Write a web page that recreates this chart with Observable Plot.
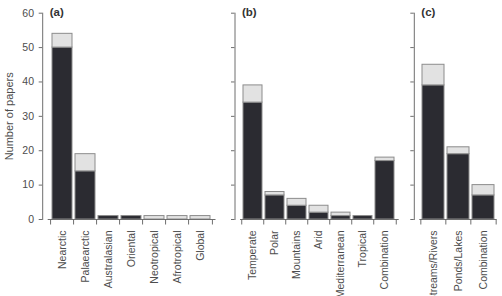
<!DOCTYPE html>
<html>
<head>
<meta charset="utf-8">
<script src="https://cdn.jsdelivr.net/npm/d3@7"></script>
<script src="https://cdn.jsdelivr.net/npm/@observablehq/plot@0.6"></script>
<style>
  html, body { margin: 0; padding: 0; background: white; }
  #chart { position: relative; width: 502px; height: 296px; overflow: hidden; background: white; }
  #chart > svg { position: absolute; top: 0; }
</style>
</head>
<body>
<div id="chart"></div>
<script>
// Panel (a): biogeographic region
const catsA = ["Nearctic", "Palaearctic", "Australasian", "Oriental", "Neotropical", "Afrotropical", "Global"];
const darkA = [50, 14, 1, 1, 0, 0, 0];
const lightA = [4, 5, 0, 0, 1, 1, 1];

// Panel (b): climate
const catsB = ["Temperate", "Polar", "Mountains", "Arid", "Mediterranean", "Tropical", "Combination"];
const darkB = [34, 7, 4, 2, 1, 1, 17];
const lightB = [5, 1, 2, 2, 1, 0, 1];

// Panel (c): habitat
const catsC = ["Streams/Rivers", "Ponds/Lakes", "Combination"];
const darkC = [39, 19, 7];
const lightC = [6, 2, 3];

const yTicks = [0, 10, 20, 30, 40, 50, 60];
const panelLabels = ["(a)", "(b)", "(c)"];
const yLabel = "Number of papers";

const FONT = "'Liberation Sans', Arial, Helvetica, sans-serif";
const TEXT = "#4d4d4d";
const AXIS = "#6e6e6e";
const DARK = "#2b2b31";
const LIGHT = "#e2e2e2";
const EDGE = "#8c8c8c";

function table(cats, dark, light) {
  const rows = [];
  cats.forEach((c, i) => {
    if (dark[i] > 0) rows.push({cat: c, type: "dark", value: dark[i]});
    if (light[i] > 0) rows.push({cat: c, type: "light", value: light[i]});
  });
  return rows;
}

function panel({cats, dark, light, label, left, width, marginLeft, marginRight, showY}) {
  const mt = 12.7, mb = 77;
  const step = (width - marginLeft - marginRight) / cats.length;
  const marks = [
    Plot.barY(table(cats, dark, light), {
      x: "cat", y: "value", fill: "type", stroke: EDGE, strokeWidth: 1
    }),
    Plot.frame({anchor: "left", dx: -5.5, stroke: AXIS}),
    Plot.frame({anchor: "bottom", stroke: AXIS}),
    Plot.axisY({
      ticks: yTicks, dx: -5.5, tickSize: 3.5,
      tickFormat: () => "", label: null, stroke: AXIS
    }),
    // boundary ticks on the x axis
    Plot.axisX({ticks: cats, tickSize: 5.5, dx: -step / 2, tickFormat: () => "", label: null, stroke: AXIS}),
    Plot.axisX({ticks: cats.slice(-1), tickSize: 5.5, dx: step / 2, tickFormat: () => "", label: null, stroke: AXIS}),
    // rotated category labels
    Plot.axisX({ticks: cats, tickSize: 0, tickPadding: 11, tickRotate: -90, label: null, fill: TEXT, fontSize: 10.5}),
    Plot.text([label], {
      frameAnchor: "top-left", text: d => d, dx: 1.5, dy: -1,
      textAnchor: "start", lineAnchor: "middle", fontWeight: "bold", fontSize: 11.5, fill: "#333"
    })
  ];
  if (showY) {
    marks.push(Plot.text(yTicks, {
      y: d => d, text: d => String(d), frameAnchor: "left", dx: -14.2,
      textAnchor: "end", lineAnchor: "middle", fontSize: 10.5, fill: TEXT
    }));
    marks.push(Plot.text([yLabel], {
      frameAnchor: "left", text: d => d, rotate: -90, dx: -39.2,
      textAnchor: "middle", lineAnchor: "middle", fontSize: 11, fill: TEXT
    }));
  }
  const svg = Plot.plot({
    width, height: 296,
    marginLeft, marginRight, marginTop: mt, marginBottom: mb,
    style: {fontFamily: FONT, fontSize: "10.5px", color: TEXT, background: "transparent", overflow: "visible"},
    x: {domain: cats, paddingInner: 0.14, paddingOuter: 0.07, axis: null},
    y: {domain: [0, 60], axis: null},
    color: {domain: ["dark", "light"], range: [DARK, LIGHT]},
    marks
  });
  svg.style.left = left + "px";
  return svg;
}

const chart = document.getElementById("chart");
chart.append(
  panel({cats: catsA, dark: darkA, light: lightA, label: panelLabels[0], left: 0, width: 222, marginLeft: 47.7, marginRight: 7.5, showY: true}),
  panel({cats: catsB, dark: darkB, light: lightB, label: panelLabels[1], left: 222, width: 184, marginLeft: 18, marginRight: 8.3, showY: false}),
  panel({cats: catsC, dark: darkC, light: lightC, label: panelLabels[2], left: 406, width: 96, marginLeft: 13.3, marginRight: 6.7, showY: false})
);
</script>
</body>
</html>
